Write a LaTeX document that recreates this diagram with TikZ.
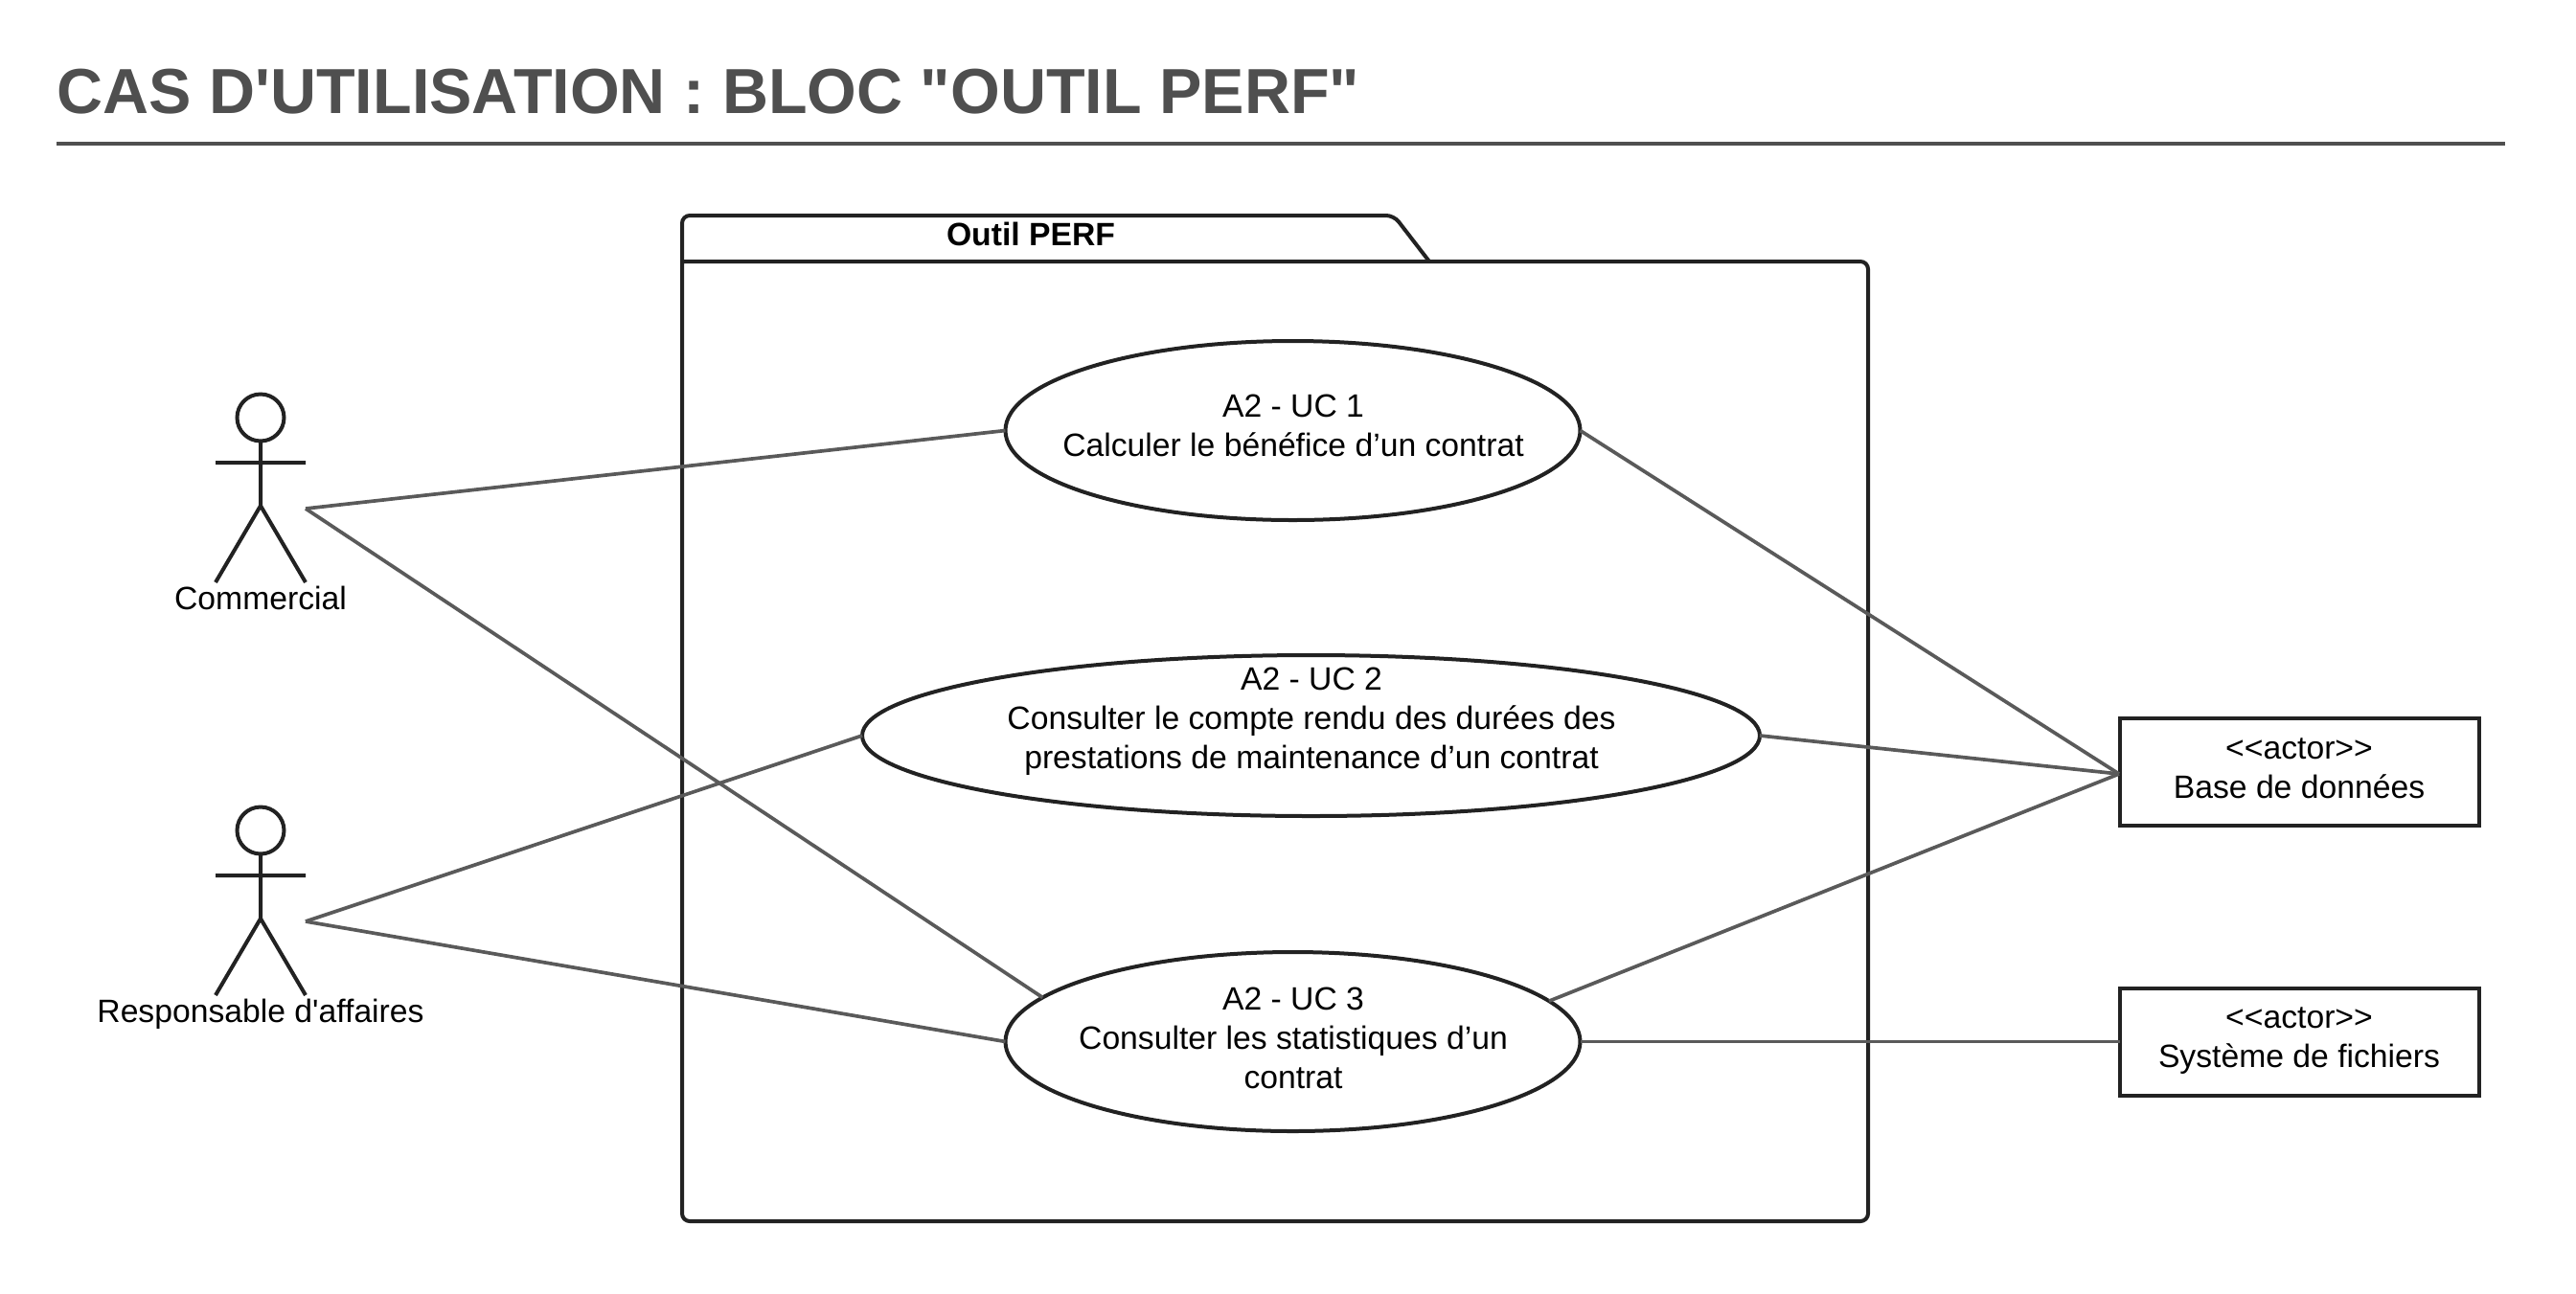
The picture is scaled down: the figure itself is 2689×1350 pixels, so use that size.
\documentclass[tikz,border=0pt]{standalone}
\usepackage{fontspec}
\setmainfont[Ligatures=TeXOff]{Liberation Sans}
\usetikzlibrary{shapes.geometric}
\definecolor{titlegray}{HTML}{4F4F4F}
\definecolor{assocgray}{HTML}{5A5A5A}
\definecolor{shapeblack}{HTML}{222222}
\tikzset{
  textfont/.style={font=\fontsize{33.7}{41}\selectfont, align=center},
  usecase/.style={ellipse, draw=shapeblack, line width=4pt, fill=white, inner sep=0pt, outer sep=0pt,
    minimum width=600pt, minimum height=187pt},
  system/.style={rectangle, draw=shapeblack, line width=4pt, fill=white, inner sep=0pt, outer sep=0pt,
    minimum width=375pt, minimum height=112pt},
  assoc/.style={color=assocgray, line width=3.7pt},
  outline/.style={draw=shapeblack, line width=4pt},
  actor/.pic={
    \draw[outline] (0,0) circle (24.5pt);
    \draw[outline] (0,24.5) -- (0,92) (-47,47) -- (47,47) (-47,172) -- (0,92) -- (47,172);
    \coordinate (-port) at (47,95);
    \node (-name) [textfont, anchor=base] at (0,200) {#1};
  }
}
\begin{document}
\begin{tikzpicture}[x=1pt, y=-1pt]
  \useasboundingbox (0,0) rectangle (2689,1350);
  \node (title) [anchor=base west, inner sep=0pt, text=titlegray,
    font=\fontsize{66.5}{70}\selectfont\bfseries] at (59.5,118) {CAS D'UTILISATION : BLOC "OUTIL PERF"};
  \draw[titlegray, line width=4pt] (59,150) -- (2615,150);

  % package
  \draw[outline, rounded corners=8pt] (712,273) -- (712,225) -- (1455,225) -- (1492,273);
  \draw[outline, rounded corners=8pt] (712,273) -- (1950,273) -- (1950,1275) -- (712,1275) -- (712,273);
  \node (pkg) [textfont, font=\fontsize{33.7}{41}\selectfont\bfseries] at (1076,244) {Outil PERF};

  \node (uc1) [usecase] at (1349.5,449.5) {};
  \node (uc1text) [textfont] at (1350,444.5) {A2 - UC 1\\Calculer le bénéfice d’un contrat};
  \node (uc2) [usecase, minimum width=937pt, minimum height=168pt] at (1368.5,768) {};
  \node (uc2text) [textfont] at (1369,753) {A2 - UC 2\\Consulter le compte rendu des durées des\\prestations de maintenance d’un contrat};
  \node (uc3) [usecase] at (1349.5,1087.5) {};
  \node (uc3text) [textfont] at (1350,1084) {A2 - UC 3\\Consulter les statistiques d’un\\contrat};

  \node (db) [system] at (2400,806) {};
  \node (dbtext) [textfont] at (2400,802) {<{}<actor>{}>\\Base de données};
  \node (fs) [system] at (2400,1087.5) {};
  \node (fstext) [textfont] at (2400,1087) {<{}<actor>{}>\\Système de fichiers};
  \coordinate (dbport) at (2212,808);

  \pic (com) at (272,436) {actor={Commercial}};
  \pic (resp) at (272,867) {actor={Responsable d'affaires}};

  \path[assoc]
    (com-port) edge (uc1.west)
    (com-port) edge (uc3.170.7)
    (resp-port) edge (uc2.west)
    (resp-port) edge (uc3.west)
    (uc1.east) edge (dbport)
    (uc2.-0.3) edge (dbport)
    (uc3.9) edge (dbport)
    (uc3.east) edge (fs.west);
\end{tikzpicture}
\end{document}
